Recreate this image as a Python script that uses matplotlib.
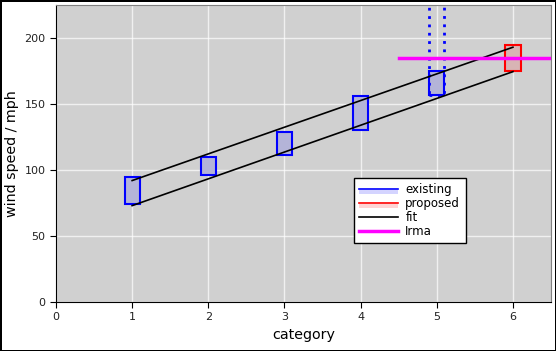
import numpy as np
import matplotlib
matplotlib.use("Agg")
import matplotlib.pyplot as plt
from matplotlib.patches import Rectangle
from matplotlib.lines import Line2D
from matplotlib.legend_handler import HandlerBase

# Saffir-Simpson ranges (mph)
categories = [1, 2, 3, 4, 5]
lower = [74, 96, 111, 130, 157]
upper = [95, 110, 129, 156, 175]
cat5_open_top = 300  # category 5 is open ended

proposed_cat = 6
proposed_range = [175, 195]

fit_x = [1, 6]
fit_lower = [73, 174.5]
fit_upper = [92, 193]

irma_speed = 185
irma_x = [4.5, 6.5]

box_half = 0.1


class LineFillHandler(HandlerBase):
    # line on top, light fill underneath
    def __init__(self, color, fill):
        super().__init__()
        self.color = color
        self.fill = fill

    def create_artists(self, legend, orig_handle, xdescent, ydescent,
                       width, height, fontsize, trans):
        ymid = height / 2 - ydescent
        r = Rectangle((-xdescent, ymid - height * 0.6), width, height * 0.55,
                      facecolor=self.fill, edgecolor="none", transform=trans)
        l = Line2D([-xdescent, -xdescent + width], [ymid, ymid],
                   color=self.color, lw=1.2, transform=trans)
        return [r, l]


fig = plt.figure(figsize=(5.56, 3.51), dpi=100)
fig.patch.set_edgecolor("black")
fig.patch.set_linewidth(2)
ax = fig.add_axes([0.1007, 0.1396, 0.8903, 0.8462])
ax.set_facecolor("#d0d0d0")

for c, lo, hi in zip(categories, lower, upper):
    ax.add_patch(Rectangle((c - box_half, lo), 2 * box_half, hi - lo,
                           facecolor="#b4b4d8", edgecolor="blue", lw=1.5, zorder=3))
# open-ended category 5
ax.add_patch(Rectangle((categories[-1] - box_half, lower[-1]), 2 * box_half,
                       cat5_open_top - lower[-1], facecolor="none", edgecolor="blue",
                       lw=2, ls=(0, (1, 2)), zorder=3))

ax.add_patch(Rectangle((proposed_cat - box_half, proposed_range[0]), 2 * box_half,
                       proposed_range[1] - proposed_range[0],
                       facecolor="#d8b4b4", edgecolor="red", lw=1.5, zorder=3))

ax.plot(fit_x, fit_upper, color="black", lw=1.2, zorder=4)
ax.plot(fit_x, fit_lower, color="black", lw=1.2, zorder=4)
ax.plot(irma_x, [irma_speed, irma_speed], color="magenta", lw=2.5, zorder=5)

ax.set_xlim(0, 6.5)
ax.set_ylim(0, 225)
ax.set_xticks(range(0, 7))
ax.set_yticks(range(0, 201, 50))
ax.grid(True, color="white", lw=1, alpha=0.7)
ax.set_axisbelow(True)
ax.tick_params(labelsize=8, length=4, color="black", labelcolor="#222222")
for s in ["top", "right"]:
    ax.spines[s].set_color("#808080")
ax.set_xlabel("category", fontsize=10.3)
ax.set_ylabel("wind speed / mph", fontsize=10.3)

h_exist = Line2D([], [], color="blue")
h_prop = Line2D([], [], color="red")
h_fit = Line2D([], [], color="black", lw=1.2)
h_irma = Line2D([], [], color="magenta", lw=2.5)
leg = ax.legend([h_exist, h_prop, h_fit, h_irma], ["existing", "proposed", "fit", "Irma"],
                loc="upper left", bbox_to_anchor=(0.602, 0.4175), borderaxespad=0,
                fancybox=False, framealpha=1, edgecolor="black", fontsize=8.5,
                handlelength=3.3, handletextpad=0.6, labelspacing=0.08, borderpad=0.45,
                handler_map={h_exist: LineFillHandler("blue", "#d4d4ff"),
                             h_prop: LineFillHandler("red", "#ffd4d4")})
leg.get_frame().set_linewidth(1)
leg.set_zorder(10)

fig.savefig("out.png", dpi=100, edgecolor=fig.get_edgecolor())
